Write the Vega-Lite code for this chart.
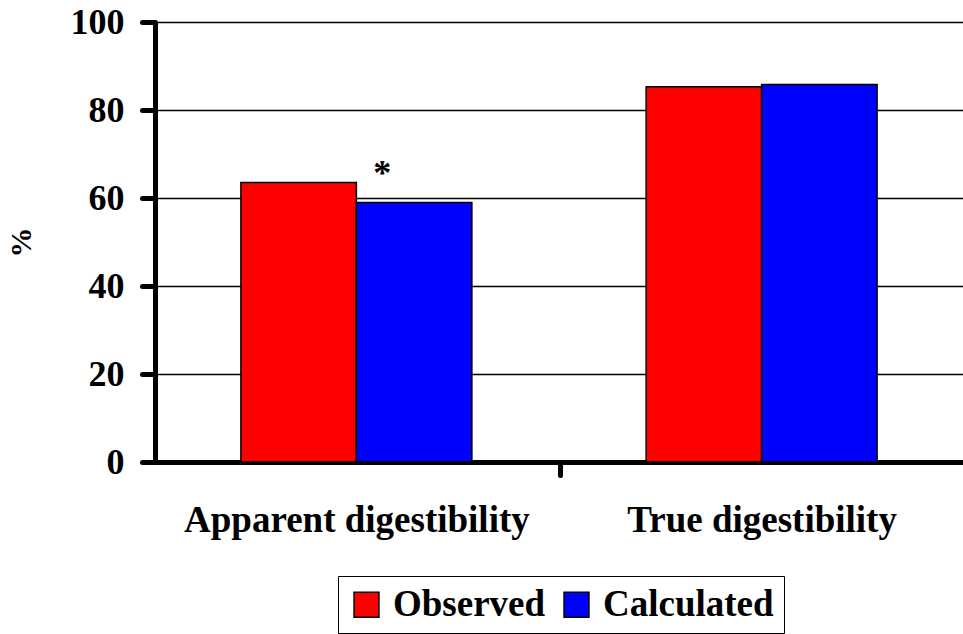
{
  "$schema": "https://vega.github.io/schema/vega-lite/v6.json",
  "autosize": {"type": "none"},
  "width": 808,
  "height": 440,
  "padding": {"left": 155, "top": 22, "right": 0, "bottom": 172},
  "background": "white",
  "data": {
    "values": [
      {"category": "Apparent digestibility", "series": "Observed", "value": 63.5, "note": ""},
      {"category": "Apparent digestibility", "series": "Calculated", "value": 59.0, "note": "*"},
      {"category": "True digestibility", "series": "Observed", "value": 85.3, "note": ""},
      {"category": "True digestibility", "series": "Calculated", "value": 85.8, "note": ""}
    ]
  },
  "config": {
    "font": "Liberation Serif",
    "view": {"stroke": null}
  },
  "encoding": {
    "x": {
      "field": "category",
      "type": "nominal",
      "sort": ["Apparent digestibility", "True digestibility"],
      "scale": {"paddingInner": 0.43, "paddingOuter": 0.212},
      "axis": {
        "title": null,
        "labelAngle": 0,
        "labelFont": "Liberation Serif",
        "labelFontWeight": "bold",
        "labelFontSize": 37,
        "labelColor": "black",
        "labelLimit": 600,
        "labelPadding": 27,
        "labelOffset": -204,
        "domainColor": "black",
        "domainWidth": 5,
        "tickOffset": 204,
        "tickColor": "black",
        "tickWidth": 5,
        "tickSize": 13,
        "tickCap": "round"
      }
    },
    "xOffset": {"field": "series", "type": "nominal", "sort": ["Observed", "Calculated"]},
    "y": {
      "field": "value",
      "type": "quantitative",
      "scale": {"domain": [0, 100], "nice": false},
      "axis": {
        "title": "%",
        "titleFont": "Liberation Serif",
        "titleFontWeight": "bold",
        "titleFontSize": 30,
        "titleColor": "black",
        "titlePadding": 34,
        "values": [0, 20, 40, 60, 80, 100],
        "labelFont": "Liberation Serif",
        "labelFontWeight": "bold",
        "labelFontSize": 36,
        "labelColor": "black",
        "labelPadding": 18,
        "domainColor": "black",
        "domainWidth": 5,
        "tickColor": "black",
        "tickWidth": 5,
        "tickSize": 13,
        "tickCap": "round",
        "grid": true,
        "gridColor": "black",
        "gridWidth": 1.5,
        "gridOpacity": 1
      }
    }
  },
  "layer": [
    {
      "mark": {"type": "bar", "stroke": "black", "strokeWidth": 1.5},
      "encoding": {
        "color": {
          "field": "series",
          "type": "nominal",
          "sort": ["Observed", "Calculated"],
          "scale": {"domain": ["Observed", "Calculated"], "range": ["#FF0000", "#0000FF"]},
          "legend": {
            "title": null,
            "orient": "none",
            "legendX": 183,
            "legendY": 554,
            "direction": "horizontal",
            "columns": 2,
            "symbolType": "square",
            "symbolSize": 620,
            "symbolStrokeColor": "black",
            "symbolStrokeWidth": 1.5,
            "symbolOpacity": 1,
            "labelFont": "Liberation Serif",
            "labelFontWeight": "bold",
            "labelFontSize": 37,
            "labelColor": "black",
            "labelLimit": 400,
            "labelOffset": 8,
            "columnPadding": 12,
            "strokeColor": "black",
            "padding": 10,
            "fillColor": "white"
          }
        }
      }
    },
    {
      "mark": {"type": "text", "fontSize": 36, "fontWeight": "bold", "font": "Liberation Serif", "baseline": "bottom", "dx": -32, "dy": -9, "color": "black"},
      "encoding": {"text": {"field": "note"}}
    }
  ]
}
